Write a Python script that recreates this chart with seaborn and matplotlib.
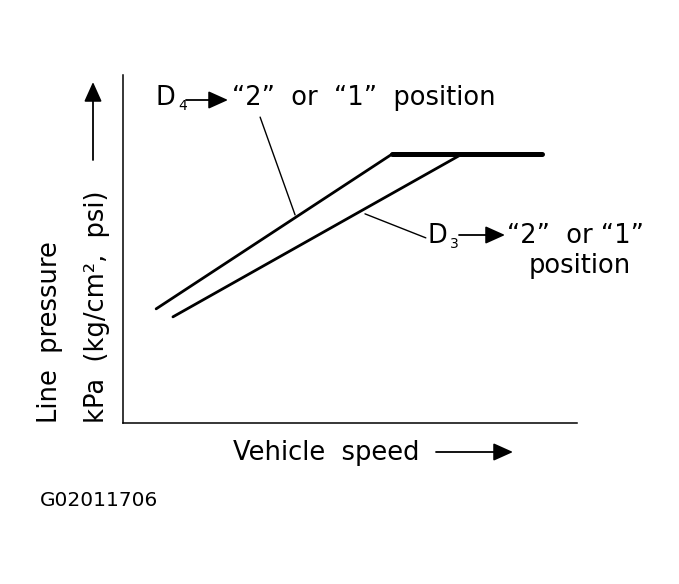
import matplotlib
matplotlib.use("Agg")
import matplotlib.pyplot as plt
import seaborn as sns
import pandas as pd

# line pressure vs vehicle speed (arbitrary units, 0-100 on both axes)
speed_d4 = [7.3, 59.3, 92.3]
pressure_d4 = [32.8, 77.3, 77.3]
speed_d3 = [11.0, 74.7]
pressure_d3 = [30.5, 77.3]

label_d4 = "\u201c2\u201d  or  \u201c1\u201d  position"
label_d3 = "\u201c2\u201d  or \u201c1\u201d"
x_label = "Vehicle  speed"
y_label_1 = "Line  pressure"
y_label_2 = "kPa  (kg/cm\u00b2,  psi)"
fig_code = "G02011706"

W, H = 679, 584


def px(x, y):
    # pixel position (from top-left) -> figure fraction
    return x / W, 1 - y / H


sns.set_theme(style="white")
plt.rcParams["font.family"] = ["DejaVu Sans"]
plt.rcParams["text.color"] = "black"

fig = plt.figure(figsize=(W / 100, H / 100), dpi=100)
ax = fig.add_axes([123 / W, 1 - 423 / H, 454 / W, 348 / H])

df4 = pd.DataFrame({"speed": speed_d4, "pressure": pressure_d4})
df3 = pd.DataFrame({"speed": speed_d3, "pressure": pressure_d3})
sns.lineplot(data=df4.iloc[:2], x="speed", y="pressure", ax=ax, color="black", lw=2.0, sort=False)
sns.lineplot(data=df3, x="speed", y="pressure", ax=ax, color="black", lw=2.0, sort=False)
# flat part where both curves overlap
sns.lineplot(data=df4.iloc[1:], x="speed", y="pressure", ax=ax, color="black", lw=3.6, sort=False)

ax.set_xlim(0, 100)
ax.set_ylim(0, 100)
ax.set_xticks([])
ax.set_yticks([])
ax.set_xlabel("")
ax.set_ylabel("")
sns.despine(ax=ax)
for s in ["left", "bottom"]:
    ax.spines[s].set_color("black")
    ax.spines[s].set_linewidth(1.1)

# leader lines
leader = dict(arrowstyle="-", color="black", lw=1.0, shrinkA=0, shrinkB=0)
ax.annotate("", xy=(37.9, 59.8), xytext=(30.2, 87.9), arrowprops=leader)
ax.annotate("", xy=(66.7, 53.2), xytext=(53.3, 60.1), arrowprops=leader)

fs = 18.5
head = dict(arrowstyle="-|>,head_length=0.6,head_width=0.27", color="black",
            lw=1.3, shrinkA=0, shrinkB=0, mutation_scale=20)


def arrow(x0, y0, x1, y1):
    ax.annotate("", xy=px(x1, y1), xytext=px(x0, y0), xycoords="figure fraction",
                textcoords="figure fraction", arrowprops=head)


# D4 label
fig.text(*px(156, 105), "D", fontsize=fs, ha="left", va="baseline")
fig.text(*px(178, 110), "4", fontsize=10, ha="left", va="baseline")
arrow(186, 100, 228, 100)
fig.text(*px(232, 105), label_d4, fontsize=fs, ha="left", va="baseline")

# D3 label
fig.text(*px(428, 243), "D", fontsize=fs, ha="left", va="baseline")
fig.text(*px(450, 248), "3", fontsize=10, ha="left", va="baseline")
arrow(459, 235, 505, 235)
fig.text(*px(507, 243), label_d3, fontsize=fs, ha="left", va="baseline")
fig.text(*px(580, 273), "position", fontsize=fs, ha="center", va="baseline")

# axis labels with arrows
fig.text(*px(326, 460), x_label, fontsize=fs, ha="center", va="baseline")
arrow(436, 452, 513, 452)

fig.text(*px(37, 423), y_label_1, fontsize=fs, rotation=90, ha="left", va="bottom")
fig.text(*px(84, 423), y_label_2, fontsize=fs, rotation=90, ha="left", va="bottom")
arrow(93, 160, 93, 82)

fig.text(*px(40, 506), fig_code, fontsize=14.5, ha="left", va="baseline")

fig.savefig("out.png", dpi=100)
